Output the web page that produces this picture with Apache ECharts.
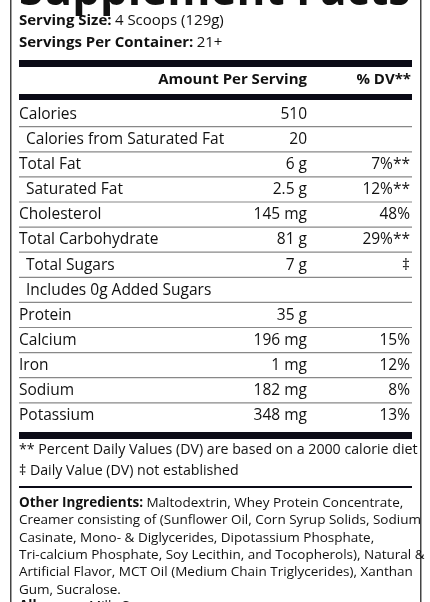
<!DOCTYPE html><html><head><meta charset="utf-8">
<script src="https://cdn.jsdelivr.net/npm/echarts@6/dist/echarts.min.js"></script>
<style>html,body{margin:0;padding:0;background:#fff}#c{width:430px;height:602px}</style></head><body><div id="c"></div>
<script>
const nutrients=["Calories","Calories from Saturated Fat","Total Fat","Saturated Fat","Cholesterol","Total Carbohydrate","Total Sugars","Includes 0g Added Sugars","Protein","Calcium","Iron","Sodium","Potassium"];
const amounts=["510","20","6 g","2.5 g","145 mg","81 g","7 g","","35 g","196 mg","1 mg","182 mg","348 mg"];
const dvs=["","","7%**","12%**","48%","29%**","‡","","","15%","12%","8%","13%"];
const indents=[0,1,0,1,0,0,1,1,0,0,0,0,0];
const ingredients=["Maltodextrin, Whey Protein Concentrate,","Creamer consisting of (Sunflower Oil, Corn Syrup Solids, Sodium","Casinate, Mono- & Diglycerides, Dipotassium Phosphate,","Tri-calcium Phosphate, Soy Lecithin, and Tocopherols), Natural &","Artificial Flavor, MCT Oil (Medium Chain Triglycerides), Xanthan","Gum, Sucralose."];
(function(){
const F='"Open Sans", sans-serif';
const els=[];
const T=(x,y,text,o={})=>els.push({type:'text',x,y,style:Object.assign({text,font:(o.b?'bold ':'')+(o.s||15)+'px '+F,fill:'#111',textAlign:o.a||'left',textVerticalAlign:'middle'},o.st||{})});
const R=(x,y,w,h,c)=>els.push({type:'rect',shape:{x,y,width:w,height:h},style:{fill:c||'#0b0b16'}});
R(10,0,1.5,602,'#444');R(420,0,1.5,602,'#444');
T(19,-8,'Supplement Facts',{b:1,s:44});
els.push({type:'text',x:19,y:21,style:{rich:{b:{font:'bold 15px '+F,fill:'#111'},n:{font:'15px '+F,fill:'#111'}},text:'{b|Serving Size:} {n|4 Scoops (129g)}',textVerticalAlign:'middle'}});
els.push({type:'text',x:19,y:43,style:{rich:{b:{font:'bold 15px '+F,fill:'#111'},n:{font:'15px '+F,fill:'#111'}},text:'{b|Servings Per Container:} {n|21+}',textVerticalAlign:'middle'}});
R(19,60,393,7);
T(307,80,'Amount Per Serving',{b:1,s:15,a:'right'});
T(411,80,'% DV**',{b:1,s:15,a:'right'});
R(19,94,393,6);
const y0=101,rh=25.1;
nutrients.forEach((n,i)=>{const yc=y0+rh*i+rh/2+1;
 T(19+(indents[i]?7:0),yc,n,{s:15.5});
 if(amounts[i])T(307,yc,amounts[i],{s:15.5,a:'right'});
 if(dvs[i])T(410,yc,dvs[i],{s:15.5,a:'right'});
 if(i<nutrients.length-1)R(19,y0+rh*(i+1),393,1.2,'#888');
});
R(19,432,393,7);
T(19,450,'** Percent Daily Values (DV) are based on a 2000 calorie diet',{s:14.2});
T(19,471,'‡ Daily Value (DV) not established',{s:14.2});
R(19,486,393,2);
els.push({type:'text',x:19,y:503,style:{rich:{b:{font:'bold 13.5px '+F,fill:'#111'},n:{font:'13.5px '+F,fill:'#111'}},text:'{b|Other Ingredients:} {n|'+ingredients[0]+'}',textVerticalAlign:'middle'}});
ingredients.slice(1).forEach((l,i)=>T(19,520.5+17.3*i,l,{s:13.5}));
els.push({type:'text',x:19,y:606,style:{rich:{b:{font:'bold 13.5px '+F,fill:'#111'},n:{font:'13.5px '+F,fill:'#111'}},text:'{b|Allergens:} {n|Milk, Soy}',textVerticalAlign:'middle'}});
const ch=echarts.init(document.getElementById('c'),null,{renderer:'canvas'});
ch.setOption({animation:false,graphic:{elements:els}});
})();
</script></body></html>
